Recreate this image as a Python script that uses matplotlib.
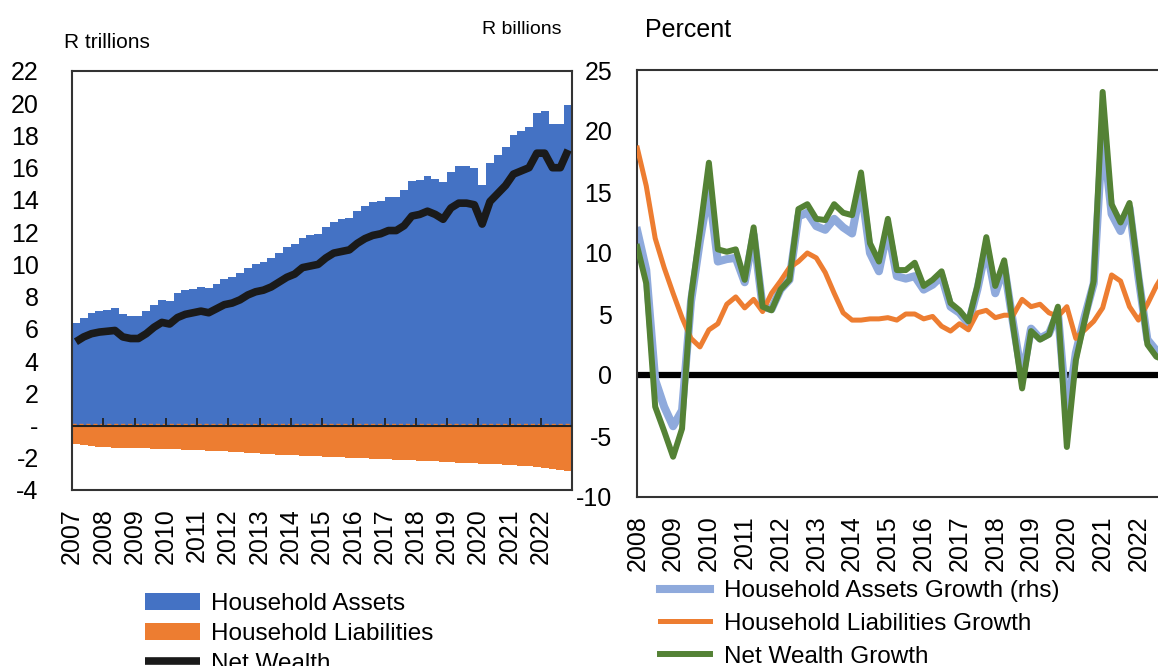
import matplotlib.pyplot as plt
import numpy as np

plt.rcParams['font.family'] = ['Liberation Sans', 'DejaVu Sans']
plt.rcParams['axes.unicode_minus'] = False

BLUE = '#4472C4'
ORANGE = '#ED7D31'
LIGHT_BLUE = '#8FAADC'
GREEN = '#548235'

# left panel: quarterly levels 2007Q1-2022Q4, R trillions
level_years = [str(y) for y in range(2007, 2023)]
assets = [6.35, 6.7, 7.0, 7.1,  7.2, 7.3, 6.9, 6.8,  6.8, 7.1, 7.5, 7.8,
          7.75, 8.2, 8.4, 8.5,  8.6, 8.55, 8.8, 9.1,  9.2, 9.45, 9.8, 10.0,
          10.15, 10.4, 10.7, 11.05,  11.25, 11.65, 11.8, 11.9,
          12.35, 12.65, 12.8, 12.9,  13.3, 13.65, 13.85, 13.95,
          14.2, 14.2, 14.6, 15.2,  15.25, 15.5, 15.3, 15.1,
          15.75, 16.1, 16.1, 16.0,  14.9, 16.3, 16.8, 17.3,
          18.0, 18.3, 18.5, 19.4,  19.5, 18.7, 18.7, 19.9]
liabilities = [1.14, 1.22, 1.28, 1.32,  1.35, 1.37, 1.39, 1.40,  1.41, 1.42, 1.43, 1.44,
               1.45, 1.47, 1.49, 1.51,  1.53, 1.55, 1.58, 1.60,  1.63, 1.66, 1.69, 1.72,
               1.75, 1.78, 1.80, 1.83,  1.85, 1.87, 1.89, 1.91,  1.93, 1.96, 1.98, 2.00,
               2.02, 2.04, 2.06, 2.08,  2.10, 2.12, 2.14, 2.16,  2.18, 2.21, 2.23, 2.25,
               2.27, 2.30, 2.32, 2.35,  2.37, 2.37, 2.39, 2.42,  2.45, 2.49, 2.53, 2.58,
               2.63, 2.68, 2.75, 2.85]
net_wealth = [5.2, 5.5, 5.7, 5.8,  5.85, 5.9, 5.5, 5.4,  5.4, 5.7, 6.1, 6.4,
              6.3, 6.7, 6.9, 7.0,  7.1, 7.0, 7.25, 7.5,  7.6, 7.8, 8.1, 8.3,
              8.4, 8.6, 8.9, 9.2,  9.4, 9.8, 9.9, 10.0,  10.4, 10.7, 10.8, 10.9,
              11.3, 11.6, 11.8, 11.9,  12.1, 12.1, 12.4, 13.0,  13.1, 13.3, 13.1, 12.8,
              13.5, 13.8, 13.8, 13.7,  12.5, 13.9, 14.4, 14.9,  15.6, 15.8, 16.0, 16.9,
              16.9, 16.0, 16.0, 17.1]

# right panel: year-on-year growth 2008Q1-2022Q4, percent
growth_years = [str(y) for y in range(2008, 2023)]
assets_growth = [11.8, 8.6, -0.4, -2.6, -4.2, -2.9, 6.0, 11.0, 15.3, 9.3, 9.5, 9.6,
                 7.6, 11.5, 5.6, 5.4, 7.0, 7.8, 13.0, 13.3, 12.2, 11.9, 12.8, 12.1,
                 11.6, 15.5, 10.0, 8.5, 12.0, 8.1, 7.9, 8.1, 7.0, 7.4, 8.1, 5.6,
                 5.1, 4.2, 7.0, 10.5, 6.7, 8.9, 4.2, -0.2, 3.8, 3.0, 3.4, 5.1,
                 -3.4, 1.8, 4.8, 7.5, 20.0, 13.2, 11.8, 13.7, 8.0, 2.9, 2.0, 1.8]
liabilities_growth = [18.6, 15.5, 11.2, 8.8, 6.7, 4.7, 3.0, 2.3, 3.7, 4.2, 5.8, 6.4,
                      5.5, 6.2, 5.2, 6.7, 7.7, 8.8, 9.3, 10.0, 9.6, 8.4, 6.7, 5.1,
                      4.5, 4.5, 4.6, 4.6, 4.7, 4.5, 5.0, 5.0, 4.6, 4.8, 4.0, 3.6,
                      4.2, 3.7, 5.1, 5.3, 4.7, 4.9, 4.9, 6.2, 5.6, 5.8, 5.1, 4.8,
                      5.6, 3.0, 3.7, 4.4, 5.5, 8.2, 7.7, 5.6, 4.5, 5.8, 7.3, 8.5]
net_wealth_growth = [10.5, 7.5, -2.6, -4.6, -6.7, -4.4, 6.4, 11.8, 17.4, 10.3, 10.1, 10.3,
                     7.8, 12.1, 5.6, 5.3, 7.0, 7.8, 13.6, 14.0, 12.8, 12.7, 14.0, 13.3,
                     13.1, 16.6, 10.8, 9.3, 12.8, 8.6, 8.6, 9.2, 7.3, 7.8, 8.5, 5.9,
                     5.3, 4.4, 7.3, 11.3, 7.3, 9.4, 4.0, -1.1, 3.6, 2.9, 3.3, 5.6,
                     -5.9, 1.2, 4.5, 7.7, 23.2, 14.0, 12.5, 14.1, 8.3, 2.5, 1.5, 1.2]

FS = 18      # tick labels
FS_LEG = 17.5

fig = plt.figure(figsize=(11.58, 6.66), dpi=100)

# ---- left: levels ----
ax = fig.add_axes([72/1158, 1 - 490/666, 500/1158, 419/666])
q = np.arange(len(assets))
h_assets = ax.bar(q, assets, width=1.0, color=BLUE, label='Household Assets', zorder=1)
h_liab = ax.bar(q, -np.array(liabilities), width=1.0, color=ORANGE,
                label='Household Liabilities', zorder=1)
ax.axhline(0.12, color=ORANGE, lw=1, ls=(0, (3, 2)), zorder=2)
ax.axhline(0, color='#222222', lw=1.5, zorder=3)
# year boundaries: small tick marks sitting on the zero line, labels below the box
bounds = np.arange(0, len(assets), 4) - 0.5
ax.vlines(bounds[1:], 0, 0.45, color='#222222', lw=1.3, zorder=3)
h_net, = ax.plot(q, net_wealth, color='#1a1a1a', lw=5.5, solid_capstyle='butt',
                 label='Net Wealth', zorder=4)

ax.set_xlim(-0.5, len(assets) - 0.5)
ax.set_ylim(-4, 22)
yt = np.arange(-4, 23, 2)
ax.set_yticks(yt)
ax.set_yticklabels(['-' if v == 0 else str(v) for v in yt])
ax.set_xticks(bounds)
ax.set_xticklabels(level_years, rotation=90)
ax.tick_params(axis='y', length=0, pad=24, labelsize=FS)
ax.tick_params(axis='x', length=0, pad=13, labelsize=FS)
for sp in ax.spines.values():
    sp.set_color('#333333')
    sp.set_linewidth(1.5)

ax.legend(handles=[h_assets, h_liab, h_net], loc='upper left',
          bbox_to_anchor=(145/1158, 1 - 593/666),
          bbox_transform=fig.transFigure, frameon=False, fontsize=FS_LEG,
          borderpad=0, borderaxespad=0, labelspacing=0.31, handlelength=2.25,
          handleheight=0.72, handletextpad=0.45)

fig.text(64/1158, 1 - 42/666, 'R trillions', fontsize=15, va='center', ha='left')
fig.text(562/1158, 1 - 30/666, 'R billions', fontsize=14, va='center', ha='right')

# ---- right: growth ----
ax2 = fig.add_axes([637.3/1158, 1 - 497/666, 528/1158, 427/666])
g = np.arange(len(assets_growth))
ax2.axhline(0, color='black', lw=4.5, zorder=1)
ax2.plot(g, assets_growth, color=LIGHT_BLUE, lw=5.8,
         label='Household Assets Growth (rhs)', zorder=2)
ax2.plot(g, liabilities_growth, color=ORANGE, lw=3.6,
         label='Household Liabilities Growth', zorder=3)
ax2.plot(g, net_wealth_growth, color=GREEN, lw=4.3,
         label='Net Wealth Growth', zorder=4)

ax2.set_xlim(0, len(assets_growth) - 1)
ax2.set_ylim(-10, 25)
ax2.set_yticks(np.arange(-10, 26, 5))
ax2.set_xticks(np.arange(0, len(assets_growth), 4))
ax2.set_xticklabels(growth_years, rotation=90)
ax2.tick_params(axis='y', length=0, pad=18, labelsize=FS)
ax2.tick_params(axis='x', length=0, pad=13, labelsize=FS)
for sp in ax2.spines.values():
    sp.set_color('#333333')
    sp.set_linewidth(1.5)

ax2.legend(loc='upper left', bbox_to_anchor=(660/1158, 1 - 580/666),
           bbox_transform=fig.transFigure, frameon=False, fontsize=FS_LEG,
           borderpad=0, borderaxespad=0, labelspacing=0.45, handlelength=2.05,
           handletextpad=0.6)

fig.text(645/1158, 1 - 30/666, 'Percent', fontsize=18, va='center', ha='left')

fig.savefig('out.png', dpi=100)
